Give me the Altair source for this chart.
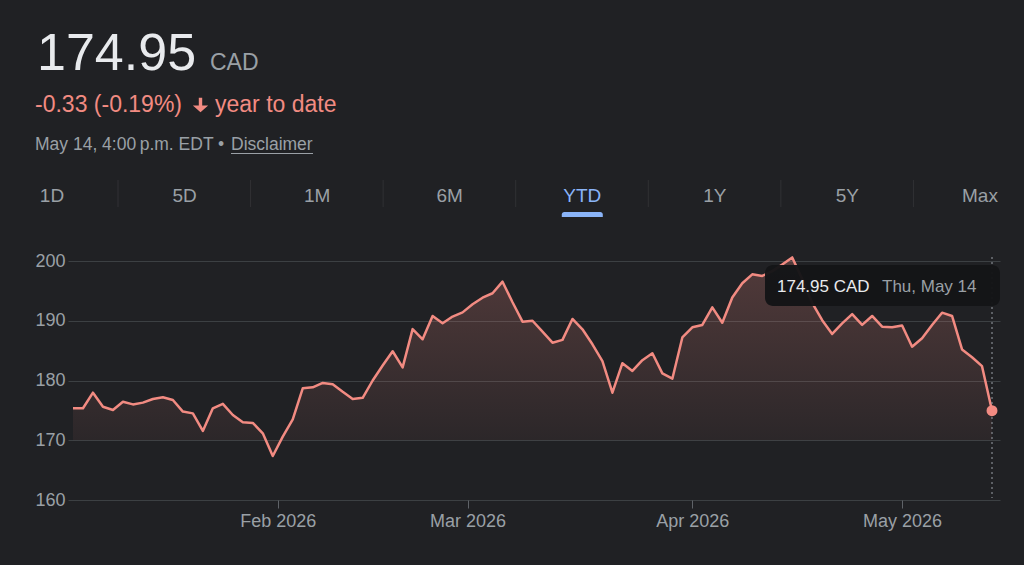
import altair as alt
import pandas as pd

# ---------------- data ----------------
prices = [
    175.35, 175.35, 177.96, 175.60, 175.06, 176.45, 176.00, 176.30, 176.90, 177.20,
    176.74, 174.80, 174.50, 171.55, 175.35, 176.10, 174.23, 173.00, 172.90, 171.16,
    167.36, 170.60, 173.50, 178.70, 178.86, 179.60, 179.36, 178.10, 176.90, 177.10,
    180.00, 182.50, 184.90, 182.20, 188.60, 186.90, 190.80, 189.57, 190.70, 191.40,
    192.75, 193.86, 194.60, 196.54, 193.10, 189.85, 190.00, 188.17, 186.33, 186.80,
    190.30, 188.57, 186.06, 183.26, 177.96, 182.90, 181.60, 183.40, 184.55, 181.20,
    180.30, 187.20, 188.90, 189.30, 192.25, 189.67, 193.90, 196.27, 197.77, 197.50,
    198.30, 199.40, 200.60, 197.00, 193.00, 190.10, 187.80, 189.57, 191.10, 189.30,
    190.80, 189.00, 188.90, 189.20, 185.66, 187.06, 189.30, 191.35, 190.80, 185.20,
    183.90, 182.40, 174.95,
]
holidays = ["2026-02-16", "2026-04-03"]
dates = [d.strftime("%Y-%m-%d") for d in pd.bdate_range("2026-01-02", "2026-05-14")
         if d.strftime("%Y-%m-%d") not in holidays]

month_starts = ["2026-02-01", "2026-03-01", "2026-04-01", "2026-05-01"]
month_labels = ["Feb 2026", "Mar 2026", "Apr 2026", "May 2026"]
y_ticks = [160, 170, 180, 190, 200]
tabs = ["1D", "5D", "1M", "6M", "YTD", "1Y", "5Y", "Max"]
active_tab = "YTD"

price_now = "174.95"
currency = "CAD"
change_text = "-0.33 (-0.19%)"
period_text = "year to date"
stamp_text = "May 14, 4:00\u2009p.m. EDT \u2022"
disclaimer = "Disclaimer"
tip_value = "174.95 CAD"
tip_date = "Thu, May 14"

# ---------------- styling ----------------
BG = "#202124"
RED = "#f28b82"
GRAY = "#9aa0a6"
GRID = "#3c4043"
FONT = "Liberation Sans"

df = pd.DataFrame({"idx": list(range(len(prices))), "date": dates, "price": prices})
last = len(prices) - 1

# month tick positions in trading-day index space
dts = pd.to_datetime(df["date"])
tick_pos = []
for m in month_starts:
    ts = pd.Timestamp(m)
    after = int((dts >= ts).idxmax())
    tick_pos.append(float(after) if dts[after] == ts else after - 0.5)
expr = "".join(f"datum.value == {p} ? '{l}' : " for p, l in zip(tick_pos, month_labels)) + "''"

x_enc = alt.X(
    "idx:Q",
    scale=alt.Scale(domain=[-0.5, last + 0.8], nice=False, zero=False),
    axis=alt.Axis(values=tick_pos, labelExpr=expr, grid=False, domain=False, ticks=True,
                  tickSize=8, tickColor="#5f6368", labelColor=GRAY, labelFontSize=18,
                  labelFont=FONT, labelPadding=4, title=None),
)
y_enc = alt.Y(
    "price:Q",
    scale=alt.Scale(domain=[160, 200], nice=False, zero=False),
    axis=alt.Axis(values=y_ticks, grid=True, gridColor=GRID, gridWidth=1.2, domain=False,
                  ticks=False, labelPadding=3, labelFontSize=18, labelFont=FONT,
                  labelColor=GRAY, title=None),
)

base = alt.Chart(df)

grad = alt.Gradient(
    gradient="linear",
    stops=[alt.GradientStop(color="rgba(242,139,130,0.24)", offset=0),
           alt.GradientStop(color="rgba(242,139,130,0.04)", offset=1)],
    x1=0, x2=0, y1=0, y2=1,
)
area = base.mark_area(color=grad).encode(x=x_enc, y=y_enc, y2=alt.datum(170))
line = base.mark_line(color=RED, strokeWidth=2.5, strokeJoin="round").encode(x=x_enc, y=y_enc)
vline = base.transform_filter(alt.datum.idx == last).mark_rule(
    color=GRAY, strokeDash=[2, 3], strokeWidth=1
).encode(x=x_enc, y=alt.value(-4), y2=alt.value(237))
dot = base.transform_filter(alt.datum.idx == last).mark_circle(
    size=120, color=RED, opacity=1
).encode(x=x_enc, y=y_enc)


def label(text, x, y, size, color, weight="normal", align="left"):
    return alt.Chart(pd.DataFrame({"t": [text]})).mark_text(
        font=FONT, fontSize=size, color=color, fontWeight=weight, align=align,
        baseline="alphabetic",
    ).encode(text="t:N", x=alt.value(x), y=alt.value(y))


one = alt.Chart(pd.DataFrame({"t": [0]}))

tip_box = one.mark_rect(fill="#141517", cornerRadius=8, opacity=0.97).encode(
    x=alt.value(697), x2=alt.value(932), y=alt.value(4), y2=alt.value(45)
)
tip1 = label(tip_value, 709, 31, 17, "#e8eaed")
tip2 = label(tip_date, 814, 31, 17, GRAY)

h_price = label(price_now, -31, -191, 52, "#e8eaed")
h_cur = label(currency, 142, -191, 23, GRAY)
h_chg = label(change_text, -33, -149, 23, RED)
h_per = label(period_text, 147, -149, 23, RED)
arrow = one.mark_point(
    shape="M-0.2,-0.85 L0.2,-0.85 L0.2,0.05 L0.9,0.05 L0,0.85 L-0.9,0.05 L-0.2,0.05 Z",
    size=290, filled=True, color=RED, opacity=1,
).encode(x=alt.value(132.5), y=alt.value(-156))
h_stamp = label(stamp_text, -33, -111, 17.5, GRAY)
h_disc = label(disclaimer, 163, -111, 17.5, GRAY)
underline = one.mark_rule(color=GRAY, strokeWidth=1).encode(
    x=alt.value(163), x2=alt.value(245), y=alt.value(-107.5)
)

tabs_df = pd.DataFrame({"tab": tabs, "active": [t == active_tab for t in tabs]})
tab_x = alt.X("tab:N", scale=alt.Scale(type="point", domain=tabs, range=[-16, 912], padding=0),
              axis=None)
tab_text = alt.Chart(tabs_df).mark_text(font=FONT, fontSize=19, baseline="alphabetic").encode(
    x=tab_x, y=alt.value(-59), text="tab:N",
    color=alt.condition(alt.datum.active, alt.value("#8ab4f8"), alt.value(GRAY)),
)
tab_sep = alt.Chart(tabs_df).transform_filter(alt.datum.tab != tabs[-1]).mark_rule(
    color="#303134", strokeWidth=1, xOffset=66
).encode(x=tab_x, y=alt.value(-81), y2=alt.value(-54))
tab_ind = alt.Chart(tabs_df).transform_filter(alt.datum.active).mark_bar(
    color="#8ab4f8", width=41, cornerRadiusTopLeft=4, cornerRadiusTopRight=4
).encode(x=tab_x, y=alt.value(-49), y2=alt.value(-44))

plot_layer = alt.layer(area, line, vline, dot)
tab_layer = alt.layer(tab_text, tab_sep, tab_ind)

chart = alt.layer(
    plot_layer, tab_layer, tip_box, tip1, tip2,
    h_price, h_cur, h_chg, h_per, arrow, h_stamp, h_disc, underline,
).resolve_scale(x="independent").properties(
    width=932, height=239,
    padding={"left": 68, "top": 261, "right": 24, "bottom": 65},
    autosize=alt.AutoSizeParams(type="none"),
    background=BG,
).configure_view(stroke=None)

chart.save("out.html", embed_options={"renderer": "svg", "actions": False})
